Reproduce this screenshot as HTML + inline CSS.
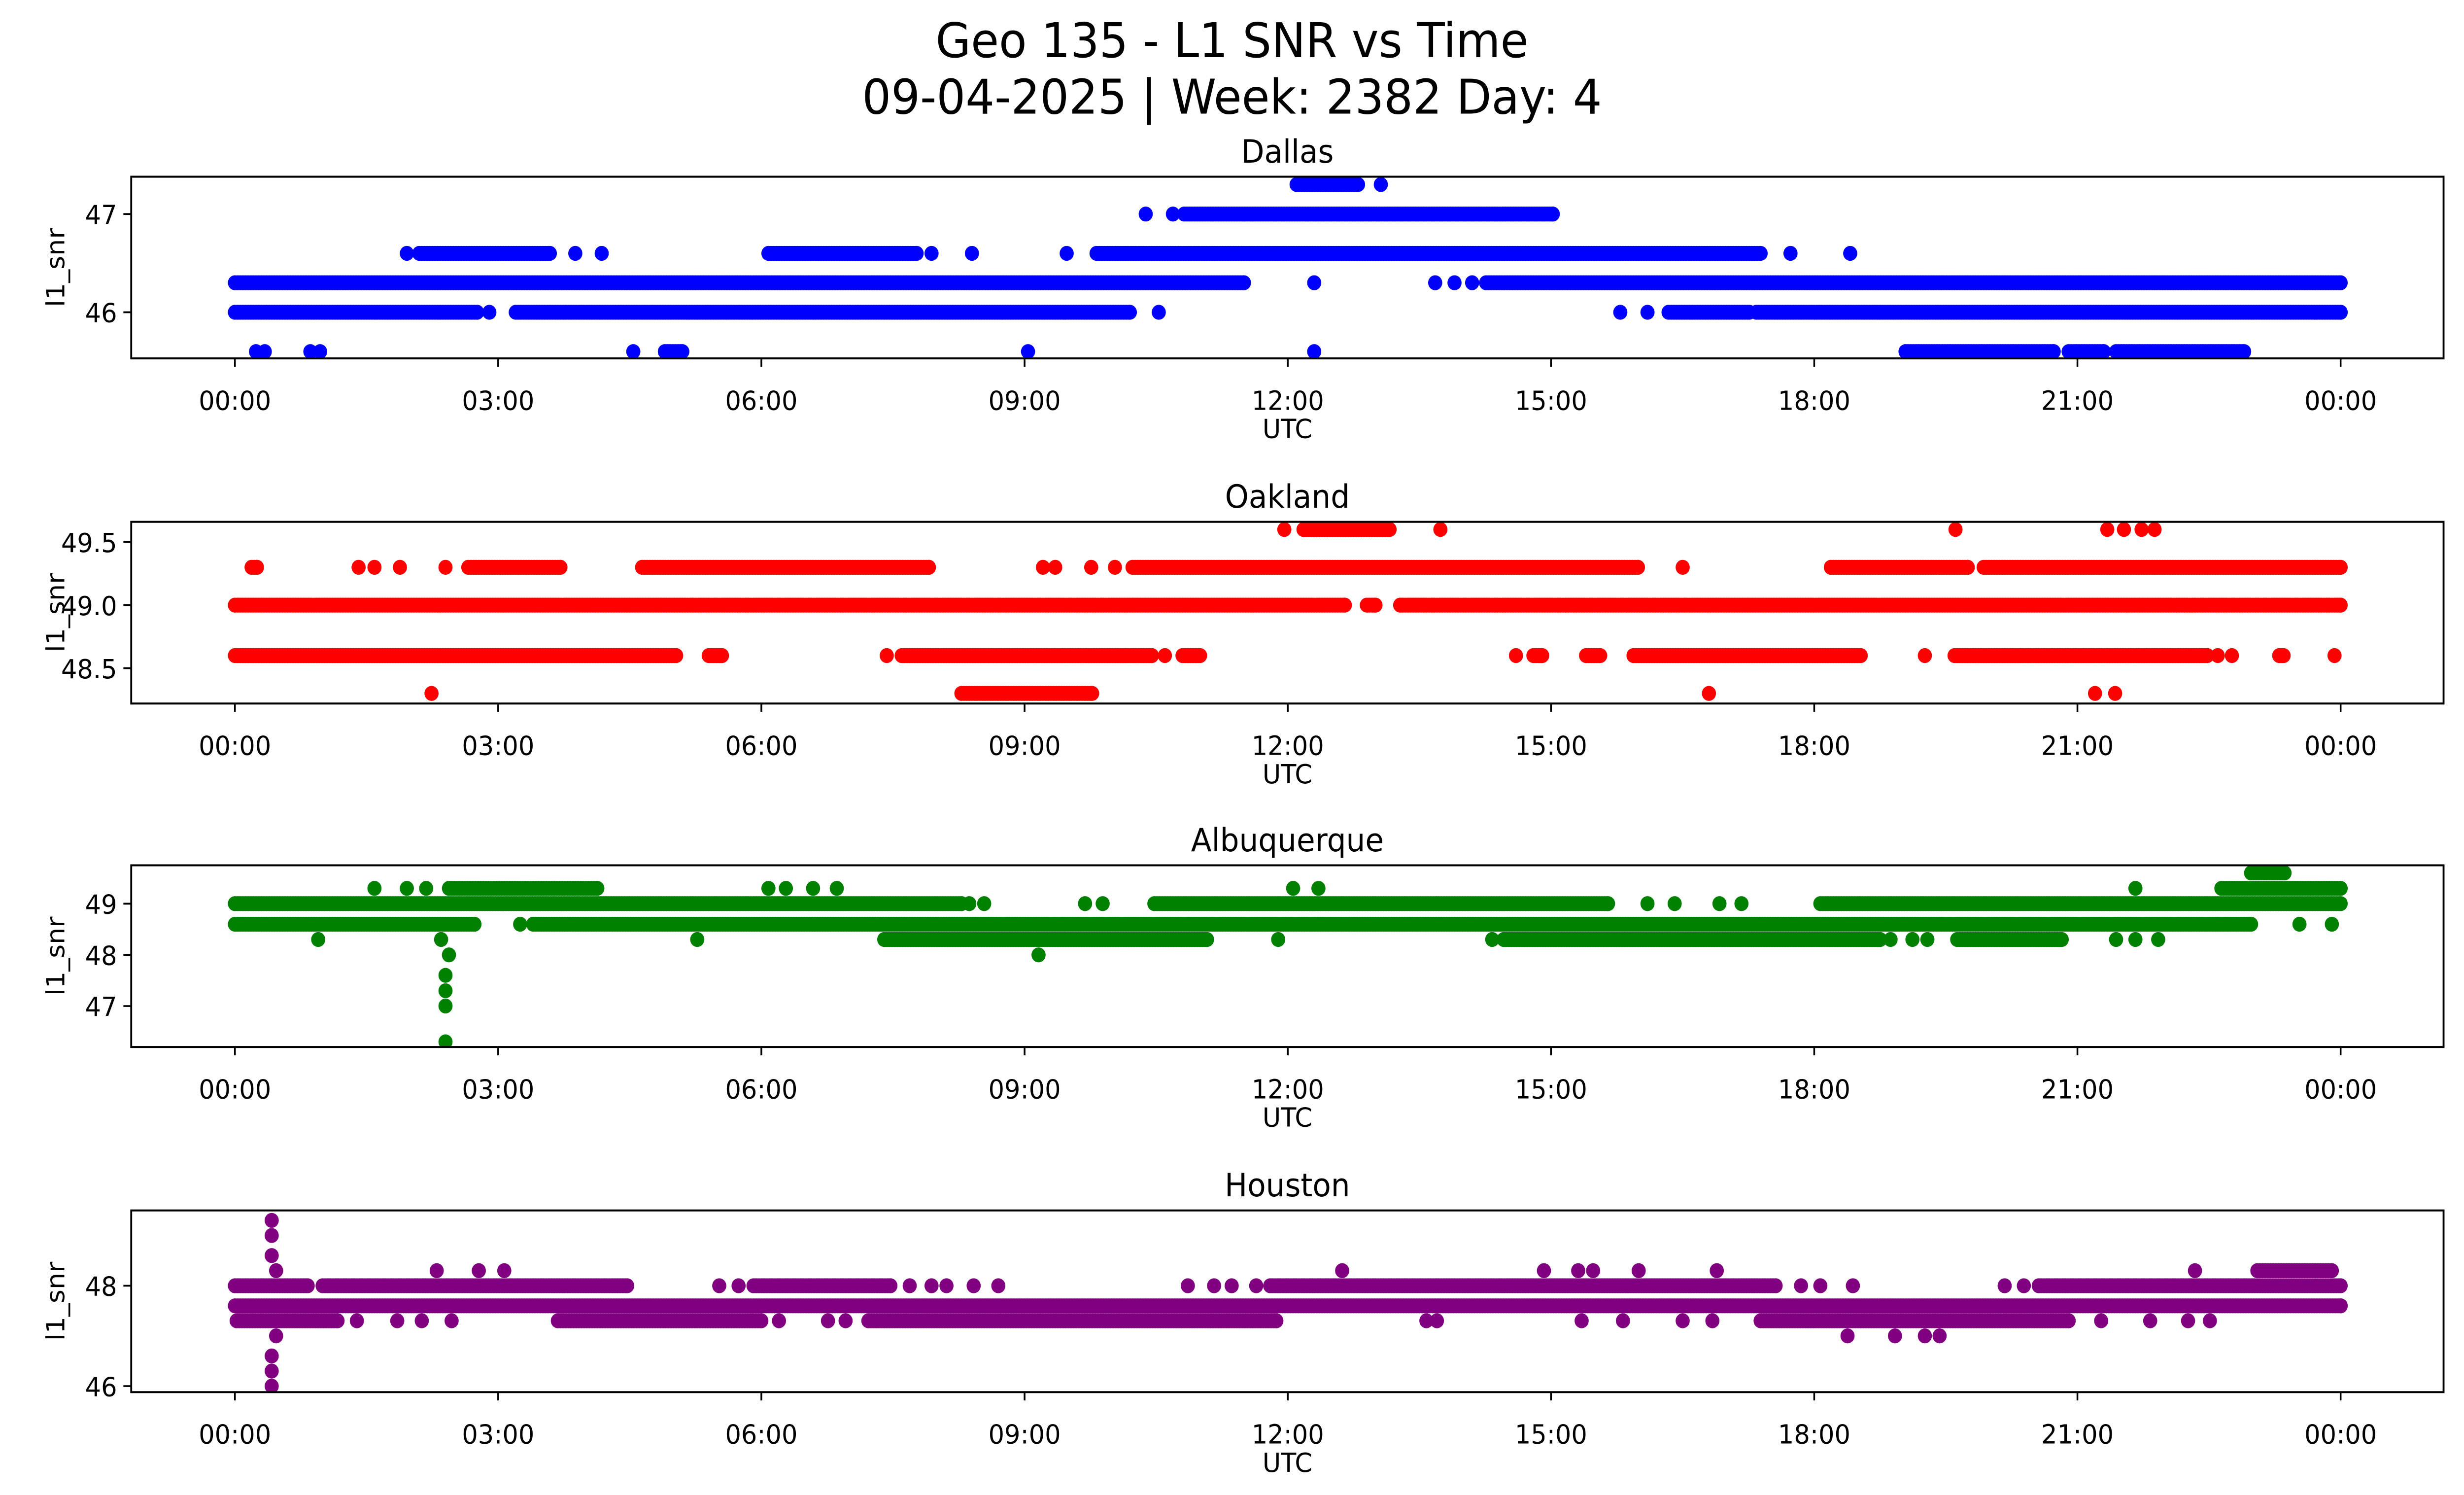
<!DOCTYPE html>
<html><head><meta charset="utf-8"><style>
html,body{margin:0;padding:0;background:#fff;overflow:hidden;width:100%;height:100%;}
svg{display:block;position:absolute;left:0;top:0;width:100vw;height:100vh;}
text{font-family:"DejaVu Sans","Liberation Sans",sans-serif;fill:#000;}
</style></head><body>
<svg id="fig" xmlns="http://www.w3.org/2000/svg" viewBox="0 0 1568 901" preserveAspectRatio="none">
<rect width="1568" height="901" fill="#fff"/>
<text x="784" y="34.5" font-size="29" text-anchor="middle">Geo 135 - L1 SNR vs Time</text>
<text x="784" y="68.5" font-size="29" text-anchor="middle">09-04-2025 | Week: 2382 Day: 4</text>
</svg>
<script>
// ----- data (hours UTC, SNR levels; each run is [startHour, endHour], single points have start==end) -----
const stations = ["Dallas","Oakland","Albuquerque","Houston"];
const colors = ["#0000ff","#ff0000","#008000","#800080"];
const xTickLabels = ["00:00","03:00","06:00","09:00","12:00","15:00","18:00","21:00","00:00"];
const xTickHours = [0,3,6,9,12,15,18,21,24];

const dallasTicks = [46,47];
const dallasRange = [45.53,47.38];
const dallasLevels = [47.3,47.0,46.6,46.3,46.0,45.6];
const dallasRuns = [
 [[12.1,12.8],[13.06,13.06]],
 [[10.38,10.38],[10.69,10.69],[10.82,15.02]],
 [[1.96,1.96],[2.1,3.59],[3.88,3.88],[4.18,4.18],[6.08,7.77],[7.94,7.94],[8.4,8.4],[9.48,9.48],[9.82,17.39],[17.73,17.73],[18.41,18.41]],
 [[0,11.5],[12.3,12.3],[13.68,13.68],[13.9,13.9],[14.1,14.1],[14.26,24]],
 [[0,2.76],[2.9,2.9],[3.2,10.2],[10.53,10.53],[15.79,15.79],[16.1,16.1],[16.34,17.26],[17.34,24]],
 [[0.24,0.24],[0.34,0.34],[0.86,0.86],[0.97,0.97],[4.54,4.54],[4.9,5.1],[9.04,9.04],[12.3,12.3],[19.04,20.73],[20.9,21.3],[21.44,22.9]]
];

const oaklandTicks = [48.5,49.0,49.5];
const oaklandRange = [48.22,49.66];
const oaklandLevels = [49.6,49.3,49.0,48.6,48.3];
const oaklandRuns = [
 [[11.96,11.96],[12.18,13.16],[13.74,13.74],[19.61,19.61],[21.34,21.34],[21.53,21.53],[21.73,21.73],[21.88,21.88]],
 [[0.19,0.25],[1.41,1.41],[1.59,1.59],[1.88,1.88],[2.4,2.4],[2.66,3.71],[4.64,7.91],[9.21,9.21],[9.35,9.35],[9.76,9.76],[10.03,10.03],[10.23,15.99],[16.5,16.5],[18.19,19.75],[19.93,24]],
 [[0,12.65],[12.9,13.0],[13.28,24]],
 [[0,5.03],[5.4,5.55],[7.43,7.43],[7.6,10.45],[10.6,10.6],[10.8,11.0],[14.6,14.6],[14.8,14.9],[15.4,15.56],[15.94,18.53],[19.26,19.26],[19.6,22.48],[22.6,22.6],[22.76,22.76],[23.3,23.35],[23.93,23.93]],
 [[2.24,2.24],[8.28,9.77],[16.8,16.8],[21.2,21.2],[21.43,21.43]]
];

const abqTicks = [47,48,49];
const abqRange = [46.2,49.75];
const abqLevels = [49.6,49.3,49.0,48.6,48.3,48.0,47.6,47.3,47.0,46.3];
const abqRuns = [
 [[22.98,23.36]],
 [[1.59,1.59],[1.96,1.96],[2.18,2.18],[2.44,4.13],[6.08,6.08],[6.28,6.28],[6.59,6.59],[6.86,6.86],[12.06,12.06],[12.35,12.35],[21.66,21.66],[22.64,24]],
 [[0,8.28],[8.37,8.37],[8.54,8.54],[9.69,9.69],[9.89,9.89],[10.48,15.65],[16.1,16.1],[16.41,16.41],[16.92,16.92],[17.17,17.17],[18.07,24]],
 [[0,2.73],[3.25,3.25],[3.4,22.98],[23.53,23.53],[23.9,23.9]],
 [[0.95,0.95],[2.35,2.35],[5.27,5.27],[7.4,11.08],[11.89,11.89],[14.33,14.33],[14.46,18.75],[18.87,18.87],[19.12,19.12],[19.29,19.29],[19.63,20.82],[21.44,21.44],[21.66,21.66],[21.92,21.92]],
 [[2.44,2.44],[9.16,9.16]],
 [[2.4,2.4]],
 [[2.4,2.4]],
 [[2.4,2.4]],
 [[2.4,2.4]]
];

const houTicks = [46,48];
const houRange = [45.88,49.5];
const houLevels = [49.3,49.0,48.6,48.3,48.0,47.6,47.3,47.0,46.6,46.3,46.0];
const houRuns = [
 [[0.42,0.42]],
 [[0.42,0.42]],
 [[0.42,0.42]],
 [[0.47,0.47],[2.3,2.3],[2.78,2.78],[3.07,3.07],[12.62,12.62],[14.92,14.92],[15.31,15.31],[15.48,15.48],[16.0,16.0],[16.89,16.89],[22.34,22.34],[23.05,23.9]],
 [[0,0.83],[1.0,4.47],[5.52,5.52],[5.74,5.74],[5.91,7.47],[7.69,7.69],[7.94,7.94],[8.11,8.11],[8.42,8.42],[8.7,8.7],[10.86,10.86],[11.16,11.16],[11.36,11.36],[11.64,11.64],[11.8,17.56],[17.85,17.85],[18.07,18.07],[18.44,18.44],[20.17,20.17],[20.39,20.39],[20.56,24]],
 [[0,24]],
 [[0.02,1.17],[1.39,1.39],[1.85,1.85],[2.13,2.13],[2.47,2.47],[3.68,6.0],[6.2,6.2],[6.76,6.76],[6.96,6.96],[7.22,11.87],[13.58,13.58],[13.7,13.7],[15.35,15.35],[15.82,15.82],[16.5,16.5],[16.84,16.84],[17.39,20.9],[21.27,21.27],[21.83,21.83],[22.26,22.26],[22.51,22.51]],
 [[0.47,0.47],[18.38,18.38],[18.92,18.92],[19.26,19.26],[19.43,19.43]],
 [[0.42,0.42]],
 [[0.42,0.42]],
 [[0.42,0.42]]
];

// ----- layout -----
const NS="http://www.w3.org/2000/svg";
const svg=document.getElementById('fig');
const AX_L=83.5, AX_R=1555, AX_H=109.5;
const AX_TOPS=[106.5,314.5,521.5,729.5];
const X0=149.5, X1=1489.5;
const xScale=h=>X0+(X1-X0)*h/24;
const panels=[
 {ticks:dallasTicks,range:dallasRange,levels:dallasLevels,runs:dallasRuns,fmt:v=>v.toFixed(0)},
 {ticks:oaklandTicks,range:oaklandRange,levels:oaklandLevels,runs:oaklandRuns,fmt:v=>v.toFixed(1)},
 {ticks:abqTicks,range:abqRange,levels:abqLevels,runs:abqRuns,fmt:v=>v.toFixed(0)},
 {ticks:houTicks,range:houRange,levels:houLevels,runs:houRuns,fmt:v=>v.toFixed(0)}
];
function mk(tag,attrs,parent){const e=document.createElementNS(NS,tag);for(const k in attrs)e.setAttribute(k,attrs[k]);(parent||svg).appendChild(e);return e;}

panels.forEach((p,i)=>{
  const top=AX_TOPS[i], bot=top+AX_H;
  const yScale=v=>bot-(v-p.range[0])/(p.range[1]-p.range[0])*AX_H;
  const g=mk('g',{});
  
  
  const clipId='clip'+i;
  const cp=mk('clipPath',{id:clipId},g);
  mk('rect',{x:AX_L,y:top,width:AX_R-AX_L,height:AX_H},cp);
  const pts=mk('g',{'clip-path':'url(#'+clipId+')',fill:colors[i]},g);
  
  
  p.levels.forEach((lv,li)=>{
    const y=yScale(lv);
    p.runs[li].forEach(r=>{
      const step=0.03;
      for(let h=r[0];h<=r[1]+1e-9;h+=step){
        mk('circle',{cx:xScale(h).toFixed(1),cy:y.toFixed(1),r:4.5},pts);
      }
      if(r[1]>r[0]) mk('circle',{cx:xScale(r[1]).toFixed(1),cy:y.toFixed(1),r:4.5},pts);
    });
  });
  const frame=mk('rect',{x:AX_L,y:top,width:AX_R-AX_L,height:AX_H,fill:'none',stroke:'#000','stroke-width':1.2},g);
  
  
  xTickHours.forEach((h,k)=>{
    const x=xScale(h);
    mk('line',{x1:x,y1:bot,x2:x,y2:bot+5,stroke:'#000','stroke-width':1.1},g);
    const t=mk('text',{x:x,y:bot+31,'font-size':16,'text-anchor':'middle'},g);
    t.textContent=xTickLabels[k];
    
    
  });
  p.ticks.forEach(v=>{
    const y=yScale(v);
    mk('line',{x1:AX_L,y1:y,x2:AX_L-5,y2:y,stroke:'#000','stroke-width':1.1},g);
    const t=mk('text',{x:AX_L-9,y:y+6,'font-size':16,'text-anchor':'end'},g);
    t.textContent=p.fmt(v);
    
    
  });
  const xl=mk('text',{x:(AX_L+AX_R)/2,y:bot+48,'font-size':16,'text-anchor':'middle'},g);
  xl.textContent='UTC';
  
  
  const yl=mk('text',{x:0,y:0,'font-size':16,'text-anchor':'middle',transform:'translate(41,'+(top+AX_H/2)+') rotate(-90)'},g);
  yl.textContent='l1_snr';
  
  
  const st=mk('text',{x:(AX_L+AX_R)/2,y:top-8.5,'font-size':19.2,'text-anchor':'middle'},g);
  st.textContent=stations[i];
  
  
});
</script>
</body></html>
